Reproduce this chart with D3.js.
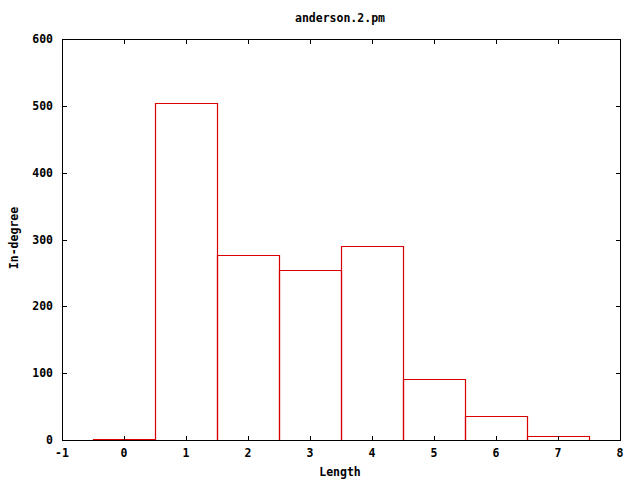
<!DOCTYPE html>
<html><head><meta charset="utf-8">
<script src="https://cdn.jsdelivr.net/npm/d3@7"></script>
<style>
body{margin:0;background:#fff;}
text{font-family:"DejaVu Sans Mono","Liberation Mono",monospace;font-weight:bold;font-size:11.5px;fill:#000;}
</style></head>
<body><svg id="c" width="640" height="480"></svg>
<script>
const categories = [0, 1, 2, 3, 4, 5, 6, 7];
const values = [2, 504, 277, 255, 291, 92, 36, 6];
const xTicks = [-1, 0, 1, 2, 3, 4, 5, 6, 7, 8];
const yTicks = [0, 100, 200, 300, 400, 500, 600];
const title = "anderson.2.pm";
const xLabel = "Length";
const yLabel = "In-degree";

const svg = d3.select("#c");
const L = 62, R = 620, T = 39, B = 440;
const x = d3.scaleLinear().domain([-1, 8]).range([L, R]);
const y = d3.scaleLinear().domain([0, 600]).range([B, T]);
const px = v => Math.round(v) + 0.5;
const tl = 4.5;

// bars (outlined in red)
svg.append("g").selectAll("path.bar").data(categories).enter().append("path")
  .attr("class", "bar")
  .attr("d", (d, i) => {
    const x0 = px(x(d - 0.5)), x1 = px(x(d + 0.5));
    const y0 = px(y(0)), y1 = px(y(values[i]));
    return `M${x0},${y0}V${y1}H${x1}V${y0}Z`;
  })
  .attr("fill", "none").attr("stroke", "#d80000").attr("stroke-width", 1.2);

const g = svg.append("g").attr("shape-rendering", "crispEdges");

// border
g.append("rect").attr("x", px(L)).attr("y", px(T)).attr("width", px(R) - px(L)).attr("height", px(B) - px(T))
  .attr("fill", "none").attr("stroke", "#000");

// ticks
xTicks.forEach(t => {
  const xx = px(x(t));
  g.append("line").attr("x1", xx).attr("x2", xx).attr("y1", px(B)).attr("y2", px(B) - tl).attr("stroke", "#000");
  g.append("line").attr("x1", xx).attr("x2", xx).attr("y1", px(T)).attr("y2", px(T) + tl).attr("stroke", "#000");
  svg.append("text").attr("x", x(t)).attr("y", 457).attr("text-anchor", "middle").text(t);
});
yTicks.forEach(t => {
  const yy = px(y(t));
  g.append("line").attr("x1", px(L)).attr("x2", px(L) + tl).attr("y1", yy).attr("y2", yy).attr("stroke", "#000");
  g.append("line").attr("x1", px(R)).attr("x2", px(R) - tl).attr("y1", yy).attr("y2", yy).attr("stroke", "#000");
  svg.append("text").attr("x", 53).attr("y", y(t) + 4).attr("text-anchor", "end").text(t);
});

svg.append("text").attr("x", 340).attr("y", 22).attr("text-anchor", "middle").text(title);
svg.append("text").attr("x", 340).attr("y", 476).attr("text-anchor", "middle").text(xLabel);
svg.append("text").attr("transform", "translate(18,238) rotate(-90)").attr("text-anchor", "middle").text(yLabel);
</script></body></html>
